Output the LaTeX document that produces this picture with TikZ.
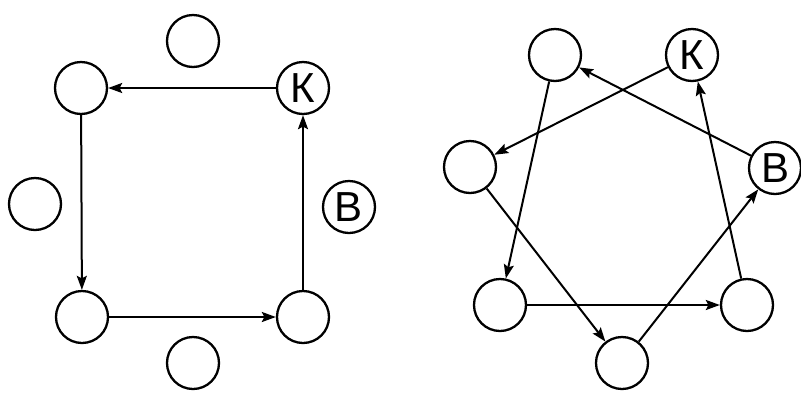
\documentclass[tikz,border=0pt]{standalone}
\usepackage{fontspec}
\setmainfont{Liberation Sans}
\usetikzlibrary{arrows.meta}
\begin{document}
\begin{tikzpicture}[x=1pt,y=-1pt,
  ring/.style={circle,draw,line width=2.3pt,minimum size=52pt,inner sep=0pt,font=\fontsize{42}{42}\selectfont},
  link/.style={line width=2pt,-{Stealth[length=14pt,width=10pt,inset=2.5pt]}}]
\useasboundingbox (0,0) rectangle (801,392);
% left diagram
\node[ring] (lt) at (193,41) {};
\node[ring] (ltl) at (81,88) {};
\node[ring] (lk) at (303,88) {К};
\node[ring] (lm) at (35,204) {};
\node[ring] (lb) at (349,207) {В};
\node[ring] (lbl) at (82,317) {};
\node[ring] (lbr) at (303,317) {};
\node[ring] (lbot) at (193,363) {};
\draw[link] (lk) -- (ltl);
\draw[link] (ltl) -- (lbl);
\draw[link] (lbl) -- (lbr);
\draw[link] (lbr) -- (lk);
% right diagram
\node[ring] (rtl) at (555,55) {};
\node[ring] (rk) at (692,55) {К};
\node[ring] (rl) at (470,167) {};
\node[ring] (rb) at (775,168) {В};
\node[ring] (rll) at (500,305) {};
\node[ring] (rlr) at (747,305) {};
\node[ring] (rbot) at (622,363) {};
\draw[link] (rtl) -- (rll);
\draw[link] (rk) -- (rl);
\draw[link] (rb) -- (rtl);
\draw[link] (rl) -- (rbot);
\draw[link] (rll) -- (rlr);
\draw[link] (rbot) -- (rb);
\draw[link] (rlr) -- (rk);
\end{tikzpicture}
\end{document}
